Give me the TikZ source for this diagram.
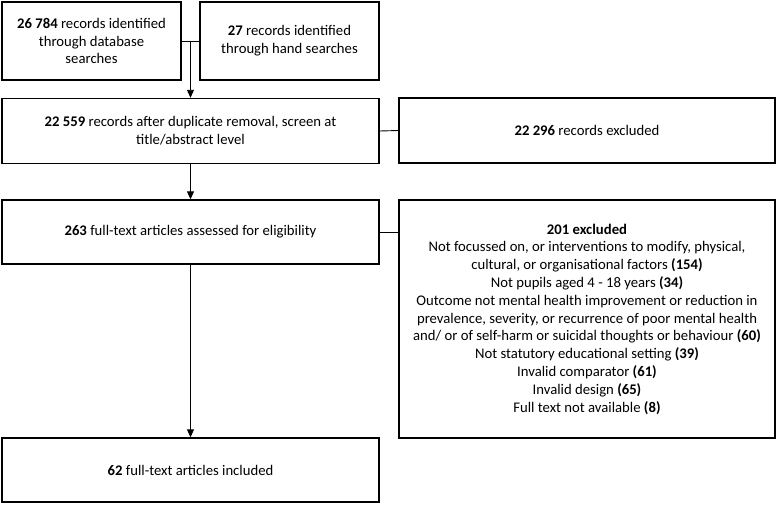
\documentclass[tikz,border=0pt]{standalone}
\usepackage{fontspec}
\setmainfont{Carlito}
\usetikzlibrary{calc,arrows.meta}

\tikzset{
	box/.style={draw, line width=1.4pt, rectangle, align=center, inner sep=0pt,
		font=\fontsize{14.7}{17.8}\selectfont},
	smallbox/.style={box, minimum width=179pt, minimum height=78pt},
	widebox/.style={box, minimum width=377pt, minimum height=65pt},
	sidebox/.style={box, minimum width=376pt},
	link/.style={line width=0.9pt},
	flow/.style={line width=0.9pt, -{Triangle[width=7pt,length=8pt]}}
}

\begin{document}
\begin{tikzpicture}[x=1pt, y=-1pt]
		%%%%% START %%%%%
		\useasboundingbox (0, 0) rectangle (777, 504);
		
		\node[smallbox] (db) at (91.5, 41) {\textbf{26 784} records identified\\through database\\searches};
		\node[smallbox] (hand) at (289.5, 41) {\textbf{27} records identified\\through hand searches};
		
		\node[widebox] (screen) at (190.5, 131) {\textbf{22 559} records after duplicate removal, screen at\\title/abstract level};
		\node[sidebox, minimum height=65pt] (excl) at (587, 130.5) {\textbf{22 296} records excluded};
		
		\node[widebox, minimum height=64pt] (full) at (190.5, 232) {\textbf{263} full-text articles assessed for eligibility};
		\node[sidebox, minimum height=238pt] (reasons) at (587, 319) {\textbf{201 excluded}\\
			Not focussed on, or interventions to modify, physical,\\
			cultural, or organisational factors \textbf{(154)}\\
			Not pupils aged 4 - 18 years \textbf{(34)}\\
			Outcome not mental health improvement or reduction in\\
			prevalence, severity, or recurrence of poor mental health\\
			and/ or of self-harm or suicidal thoughts or behaviour \textbf{(60)}\\
			Not statutory educational setting \textbf{(39)}\\
			Invalid comparator \textbf{(61)}\\
			Invalid design \textbf{(65)}\\
			Full text not available \textbf{(8)}};
		
		\node[widebox, minimum height=64pt] (incl) at (190.5, 470) {\textbf{62} full-text articles included};
		
		% joins and arrows
		\draw[link] (db.east) -- (hand.west);
		\coordinate (join) at ($(db.east)!0.5!(hand.west)$);
		\draw[flow] (join) -- (join |- screen.north);
		\draw[link] (screen.east) -- (excl.west);
		\draw[flow] (screen.south) -- (full.north);
		\draw[link] (full.east) -- (full.east -| reasons.west);
		\draw[flow] (full.south) -- (incl.north);
		
		%%%%% END %%%%%
	\end{tikzpicture}
\end{document}
